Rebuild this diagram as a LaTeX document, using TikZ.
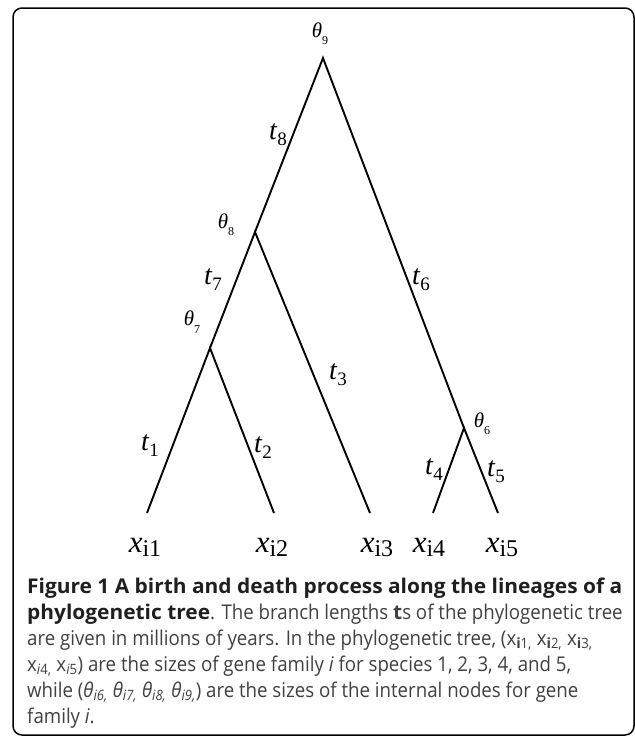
\documentclass[tikz,border=0pt]{standalone}
\usepackage{fontspec}
\setmainfont{Open Sans}[FakeStretch=0.92, BoldFeatures={FakeStretch=1.03}]
\newfontfamily\tnr{Liberation Serif}
\newcommand\mth[1]{\textit{θ}\raisebox{-0.35em}{\fontsize{12}{12}\selectfont #1}}
\newcommand\mtl[1]{\textit{t}\raisebox{-0.22em}{\fontsize{19}{19}\selectfont #1}}
\newcommand\mxl[1]{\textit{x}\raisebox{-0.15em}{\fontsize{24}{24}\selectfont i#1}}
\begin{document}
\begin{tikzpicture}[x=1pt,y=-1pt,
  branch/.style={line width=1.9pt},
  thlab/.style={font=\tnr\fontsize{21}{21}\selectfont, inner sep=0pt},
  tlab/.style={font=\tnr\fontsize{28}{28}\selectfont, inner sep=0pt},
  xlab/.style={font=\tnr\fontsize{31}{31}\selectfont, inner sep=0pt, anchor=base},
  capline/.style={anchor=base west, inner sep=0pt, text=black!75, font=\fontsize{20.3}{26}\selectfont},
]
\useasboundingbox (0,0) rectangle (635,737);
\draw[line width=1.5pt, rounded corners=9pt] (13,8) rectangle (634,735);
% tree nodes
\coordinate (n9) at (323,58);
\coordinate (n8) at (255,232);
\coordinate (n7) at (210,348);
\coordinate (n6) at (464,428);
\coordinate (l1) at (147,513);
\coordinate (l2) at (274,513);
\coordinate (l3) at (370,513);
\coordinate (l4) at (433,513);
\coordinate (l5) at (498,513);
\draw[branch] (l1) -- (n7) -- (l2);
\draw[branch] (n7) -- (n8) -- (l3);
\draw[branch] (n8) -- (n9) -- (n6);
\draw[branch] (l4) -- (n6) -- (l5);
% labels
\node[thlab] (th9) at (320,34) {\mth{9}};
\node[thlab] (th8) at (226,225) {\mth{8}};
\node[thlab] (th7) at (192,322) {\mth{7}};
\node[thlab] (th6) at (482,424) {\mth{6}};
\node[tlab] (t8) at (278,135) {\mtl{8}};
\node[tlab] (t7) at (213,280) {\mtl{7}};
\node[tlab] (t6) at (421,280) {\mtl{6}};
\node[tlab] (t3) at (338,375) {\mtl{3}};
\node[tlab] (t1) at (150,446) {\mtl{1}};
\node[tlab] (t2) at (263,448) {\mtl{2}};
\node[tlab] (t4) at (434,470) {\mtl{4}};
\node[tlab] (t5) at (496,472) {\mtl{5}};
\node[xlab] (x1) at (145,552) {\mxl{1}};
\node[xlab] (x2) at (272,552) {\mxl{2}};
\node[xlab] (x3) at (377,552) {\mxl{3}};
\node[xlab] (x4) at (429,552) {\mxl{4}};
\node[xlab] (x5) at (502,552) {\mxl{5}};
% caption
\node[capline, text=black!88] (c1) at (27,593) {\textbf{Figure 1 A birth and death process along the lineages of a}};
\node[capline] (c2) at (27,619) {\textcolor{black!88}{\textbf{phylogenetic tree}}. The branch lengths \textbf{t}s of the phylogenetic tree};
\node[capline] (c3) at (27,645) {are given in millions of years. In the phylogenetic tree, (x\textsubscript{\textbf{i}1,} x\textsubscript{\textbf{i}2,} x\textsubscript{\textbf{i}3,}};
\node[capline] (c4) at (27,671) {x\textsubscript{\textit{i}4,} x\textsubscript{\textit{i}5}) are the sizes of gene family \textit{i} for species 1, 2, 3, 4, and 5,};
\node[capline] (c5) at (27,697) {while (\textit{θ}\textsubscript{\textit{i6,}} \textit{θ}\textsubscript{\textit{i7,}} \textit{θ}\textsubscript{\textit{i8,}} \textit{θ}\textsubscript{\textit{i9,}}) are the sizes of the internal nodes for gene};
\node[capline] (c6) at (27,723) {family \textit{i}.};
\end{tikzpicture}
\end{document}
